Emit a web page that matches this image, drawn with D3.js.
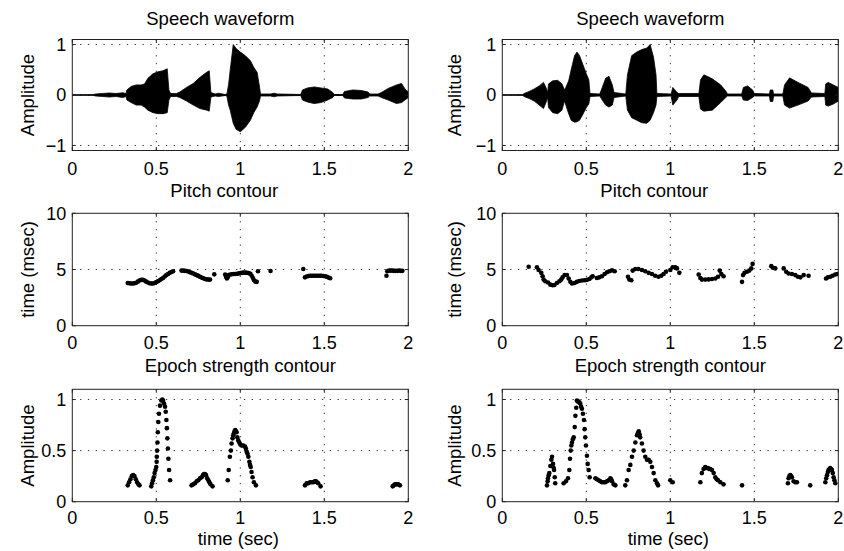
<!DOCTYPE html>
<html>
<head>
<meta charset="utf-8">
<script src="https://cdn.jsdelivr.net/npm/d3@7"></script>
<style>
  html, body { margin: 0; padding: 0; background: #fff; }
  text { font-family: "Liberation Sans", Arial, Helvetica, sans-serif; fill: #000; }
</style>
</head>
<body>
<svg id="chart" width="844" height="551"></svg>
<script>
// ---------------- DATA ----------------
const xTicks = [0, 0.5, 1, 1.5, 2];
const waveTicks = [-1, 0, 1];
const pitchTicks = [0, 5, 10];
const epochTicks = [0, 0.5, 1];

const titles = ["Speech waveform", "Pitch contour", "Epoch strength contour"];
const yLabels = ["Amplitude", "time (msec)", "Amplitude"];
const xLabel = "time (sec)";

// speech waveform envelopes: [time, upper, lower]
const waveLeft = [
  [0,0,0],[0.12,0.005,-0.005],[0.14,0.02,-0.02],[0.18,0.03,-0.03],[0.22,0.04,-0.04],[0.26,0.03,-0.03],
  [0.30,0.045,-0.05],[0.32,0.03,-0.03],[0.325,0.1,-0.1],[0.35,0.17,-0.15],[0.38,0.2,-0.2],[0.41,0.2,-0.2],
  [0.43,0.22,-0.24],[0.45,0.33,-0.3],[0.48,0.42,-0.35],[0.51,0.46,-0.37],[0.54,0.48,-0.37],[0.565,0.52,-0.35],
  [0.575,0.1,-0.1],[0.585,0.03,-0.03],[0.62,0.03,-0.03],[0.64,0.06,-0.05],[0.68,0.15,-0.12],[0.72,0.23,-0.2],
  [0.76,0.35,-0.27],[0.80,0.45,-0.3],[0.815,0.48,-0.32],[0.825,0.05,-0.04],[0.85,0.02,-0.02],[0.87,0.035,-0.03],
  [0.91,0.01,-0.01],[0.92,0.02,-0.02],[0.93,0.2,-0.2],[0.94,0.5,-0.3],[0.958,1.0,-0.56],[0.975,0.92,-0.68],
  [1.0,0.85,-0.73],[1.03,0.78,-0.64],[1.06,0.68,-0.5],[1.08,0.55,-0.35],[1.10,0.45,-0.24],[1.115,0.15,-0.11],
  [1.12,0.02,-0.02],[1.18,0.02,-0.02],[1.2,0.035,-0.035],[1.22,0.02,-0.02],[1.36,0.01,-0.01],[1.37,0.1,-0.1],
  [1.40,0.14,-0.14],[1.44,0.16,-0.17],[1.48,0.14,-0.15],[1.52,0.12,-0.1],[1.55,0.05,-0.05],[1.56,0.01,-0.01],
  [1.61,0.01,-0.01],[1.62,0.07,-0.06],[1.67,0.1,-0.08],[1.72,0.09,-0.08],[1.76,0.06,-0.05],[1.77,0.02,-0.02],
  [1.82,0.02,-0.02],[1.84,0.05,-0.05],[1.88,0.13,-0.1],[1.93,0.2,-0.17],[1.96,0.23,-0.15],[1.98,0.12,-0.1],
  [2.0,0.06,-0.05]
];
const waveRight = [
  [0,0,0],[0.12,0.005,-0.005],[0.13,0.03,-0.03],[0.16,0.07,-0.07],[0.19,0.12,-0.12],[0.22,0.18,-0.2],
  [0.245,0.25,-0.27],[0.26,0.15,-0.15],[0.27,0.05,-0.05],[0.275,0.22,-0.25],[0.30,0.28,-0.35],[0.33,0.29,-0.37],
  [0.355,0.22,-0.3],[0.37,0.1,-0.12],[0.378,0.15,-0.2],[0.395,0.28,-0.37],[0.41,0.5,-0.5],[0.43,0.78,-0.54],
  [0.445,0.85,-0.53],[0.46,0.78,-0.5],[0.48,0.6,-0.38],[0.50,0.42,-0.25],[0.515,0.3,-0.18],[0.522,0.03,-0.03],
  [0.58,0.02,-0.02],[0.595,0.15,-0.1],[0.615,0.33,-0.2],[0.635,0.37,-0.24],[0.655,0.2,-0.2],[0.665,0.05,-0.05],
  [0.735,0.02,-0.02],[0.745,0.4,-0.3],[0.77,0.78,-0.45],[0.80,0.85,-0.5],[0.83,0.9,-0.55],[0.86,0.93,-0.56],
  [0.88,1.0,-0.5],[0.9,0.75,-0.35],[0.915,0.4,-0.2],[0.92,0.03,-0.03],[1.005,0.02,-0.02],[1.015,0.15,-0.2],
  [1.04,0.05,-0.1],[1.05,0.03,-0.03],[1.17,0.03,-0.03],[1.18,0.3,-0.28],[1.2,0.4,-0.32],[1.25,0.32,-0.3],
  [1.3,0.2,-0.15],[1.33,0.08,-0.05],[1.34,0.02,-0.02],[1.425,0.02,-0.02],[1.435,0.15,-0.1],[1.46,0.18,-0.11],
  [1.49,0.1,-0.05],[1.5,0.03,-0.02],[1.59,0.02,-0.02],[1.595,0.1,-0.13],[1.61,0.1,-0.13],[1.615,0.02,-0.02],
  [1.67,0.02,-0.02],[1.68,0.2,-0.2],[1.71,0.34,-0.26],[1.76,0.25,-0.2],[1.82,0.15,-0.12],[1.84,0.04,-0.04],
  [1.92,0.03,-0.03],[1.925,0.22,-0.2],[1.94,0.25,-0.22],[1.97,0.2,-0.18],[2.0,0.15,-0.12]
];

// pitch contour points: [time (sec), pitch period (msec)]
const pitchLeft = [
  [0.330,3.80],[0.340,3.78],[0.350,3.76],[0.360,3.76],[0.370,3.78],[0.380,3.82],[0.390,3.92],[0.400,4.02],
  [0.410,4.08],[0.420,4.08],[0.430,4.02],[0.440,3.92],[0.450,3.84],[0.460,3.78],[0.470,3.76],[0.480,3.76],
  [0.490,3.80],[0.500,3.88],[0.510,3.96],[0.520,4.05],[0.530,4.15],[0.540,4.25],[0.550,4.38],[0.560,4.50],
  [0.570,4.60],[0.580,4.70],[0.590,4.78],[0.600,4.85],
  [0.650,4.90],[0.660,4.90],[0.670,4.88],[0.680,4.86],[0.690,4.82],[0.700,4.76],[0.710,4.70],[0.720,4.64],
  [0.730,4.57],[0.740,4.50],[0.750,4.43],[0.760,4.36],[0.770,4.28],[0.780,4.22],[0.790,4.16],[0.800,4.12],
  [0.810,4.10],[0.820,4.10],[0.845,4.57],
  [0.910,4.55],[0.915,4.35],[0.920,4.20],[0.925,4.30],[0.930,4.50],[0.940,4.55],[0.950,4.58],[0.960,4.60],
  [0.970,4.60],[0.980,4.62],[0.990,4.65],[1.000,4.68],[1.010,4.70],[1.020,4.72],[1.030,4.72],[1.040,4.70],
  [1.050,4.68],[1.060,4.62],[1.068,4.45],[1.075,4.25],[1.082,4.05],[1.090,3.92],[1.098,3.90],[1.105,4.85],
  [1.180,4.87],
  [1.375,5.05],[1.385,4.30],[1.395,4.38],[1.405,4.42],[1.415,4.45],[1.425,4.45],[1.435,4.45],[1.445,4.45],
  [1.455,4.45],[1.465,4.45],[1.475,4.45],[1.485,4.45],[1.495,4.42],[1.505,4.40],[1.515,4.35],[1.525,4.28],
  [1.535,4.22],
  [1.870,4.45],[1.875,4.85],[1.885,4.90],[1.895,4.90],[1.905,4.90],[1.915,4.88],[1.925,4.88],[1.935,4.88],
  [1.945,4.90],[1.955,4.88],[1.965,4.88]
];
const pitchRight = [
  [0.157,5.25],[0.206,5.20],[0.216,4.95],[0.232,4.70],[0.240,4.40],[0.246,4.10],[0.256,3.95],[0.272,3.85],
  [0.286,3.65],[0.300,3.60],[0.310,3.62],[0.325,3.80],[0.340,3.95],[0.351,4.10],[0.359,4.30],[0.371,4.50],
  [0.385,4.50],[0.395,4.20],[0.405,3.90],[0.415,3.75],[0.430,3.80],[0.444,3.90],[0.458,3.98],[0.474,4.02],
  [0.490,4.05],[0.504,4.08],[0.518,4.15],[0.530,4.30],[0.538,4.40],
  [0.563,4.25],[0.577,4.30],[0.593,4.40],[0.609,4.60],[0.623,4.75],[0.637,4.85],[0.653,4.92],[0.669,4.85],
  [0.748,4.35],[0.756,4.10],[0.768,4.05],[0.776,4.90],[0.792,5.05],[0.810,5.05],[0.831,4.95],[0.851,4.85],
  [0.871,4.70],[0.891,4.60],[0.910,4.45],[0.930,4.35],[0.946,4.45],[0.960,4.60],[0.974,4.80],
  [1.000,4.95],[1.014,5.20],[1.030,5.20],[1.040,5.10],[1.054,4.70],
  [1.169,4.55],[1.179,4.25],[1.188,4.10],[1.208,4.10],[1.228,4.12],[1.248,4.15],[1.268,4.20],[1.284,4.35],
  [1.294,4.90],[1.304,4.60],[1.317,4.40],
  [1.427,3.90],[1.433,4.50],[1.442,4.70],[1.456,4.80],[1.470,4.90],[1.482,5.10],[1.490,5.50],
  [1.601,5.30],[1.611,5.15],[1.625,5.10],[1.675,5.10],[1.690,4.80],[1.704,4.65],[1.724,4.60],[1.744,4.50],
  [1.760,4.35],[1.774,4.30],[1.794,4.50],[1.823,4.45],
  [1.927,4.20],[1.938,4.30],[1.952,4.35],[1.966,4.45],[1.982,4.55],[1.996,4.60]
];

// epoch strength points: [time (sec), amplitude]
const epochLeft = [
  [0.330,0.16],[0.338,0.19],[0.346,0.22],[0.354,0.25],[0.362,0.26],[0.370,0.25],[0.378,0.22],[0.386,0.19],
  [0.394,0.17],[0.400,0.16],
  [0.470,0.15],[0.475,0.18],[0.480,0.21],[0.485,0.24],[0.490,0.28],[0.495,0.31],[0.500,0.34],[0.502,0.39],
  [0.503,0.44],[0.505,0.50],[0.507,0.58],[0.509,0.68],[0.512,0.78],[0.516,0.86],[0.522,0.94],[0.530,0.99],
  [0.536,1.00],[0.540,0.99],[0.546,0.96],[0.552,0.93],[0.556,0.88],[0.560,0.80],[0.563,0.72],[0.566,0.62],
  [0.569,0.52],[0.572,0.42],[0.576,0.31],[0.582,0.21],
  [0.710,0.16],[0.720,0.17],[0.730,0.18],[0.740,0.20],[0.750,0.21],[0.760,0.23],[0.770,0.24],[0.778,0.26],
  [0.784,0.27],[0.790,0.27],[0.796,0.26],[0.803,0.23],[0.810,0.21],[0.816,0.19],[0.823,0.17],[0.835,0.15],
  [0.925,0.21],[0.931,0.31],[0.938,0.44],[0.944,0.50],[0.948,0.57],[0.954,0.62],[0.958,0.65],[0.962,0.67],
  [0.966,0.69],[0.970,0.70],[0.974,0.69],[0.978,0.68],[0.982,0.63],[0.988,0.60],[0.994,0.58],[1.000,0.56],
  [1.008,0.55],[1.018,0.55],[1.028,0.54],[1.033,0.52],[1.038,0.49],[1.043,0.47],[1.048,0.44],[1.054,0.39],
  [1.058,0.36],[1.062,0.34],[1.067,0.29],[1.073,0.24],[1.081,0.19],[1.093,0.16],
  [1.385,0.16],[1.395,0.18],[1.405,0.18],[1.415,0.19],[1.425,0.19],[1.435,0.19],[1.443,0.20],[1.450,0.20],
  [1.457,0.19],[1.464,0.18],[1.478,0.15],
  [1.907,0.15],[1.914,0.16],[1.921,0.17],[1.930,0.17],[1.940,0.17],[1.950,0.16]
];
const epochRight = [
  [0.266,0.16],[0.270,0.20],[0.272,0.23],[0.276,0.26],[0.280,0.28],[0.286,0.35],[0.292,0.41],[0.296,0.44],
  [0.302,0.37],[0.306,0.33],[0.308,0.31],[0.312,0.24],[0.315,0.18],
  [0.365,0.18],[0.379,0.20],[0.391,0.23],[0.399,0.31],[0.403,0.42],[0.407,0.50],[0.411,0.55],[0.415,0.58],
  [0.420,0.61],[0.425,0.63],[0.431,0.73],[0.435,0.84],[0.440,0.92],[0.444,0.99],[0.449,0.98],[0.454,0.98],
  [0.459,0.97],[0.464,0.96],[0.469,0.93],[0.474,0.91],[0.480,0.86],[0.486,0.80],[0.490,0.71],[0.494,0.63],
  [0.498,0.55],[0.504,0.45],[0.508,0.37],[0.514,0.31],[0.520,0.24],
  [0.554,0.23],[0.563,0.22],[0.573,0.21],[0.583,0.20],[0.593,0.19],[0.603,0.19],[0.613,0.19],[0.623,0.20],
  [0.633,0.21],[0.643,0.23],[0.648,0.22],[0.653,0.20],[0.663,0.17],[0.673,0.16],
  [0.732,0.16],[0.742,0.21],[0.752,0.31],[0.762,0.36],[0.772,0.44],[0.782,0.50],[0.792,0.58],[0.802,0.65],
  [0.807,0.67],[0.812,0.69],[0.817,0.66],[0.821,0.63],[0.831,0.57],[0.841,0.50],[0.851,0.44],[0.861,0.41],
  [0.871,0.41],[0.881,0.39],[0.891,0.34],[0.901,0.28],[0.911,0.21],[0.921,0.18],[0.927,0.16],
  [1.000,0.21],[1.014,0.19],
  [1.179,0.19],[1.188,0.28],[1.198,0.32],[1.208,0.34],[1.216,0.33],[1.224,0.33],[1.231,0.32],[1.238,0.32],
  [1.248,0.31],[1.258,0.28],[1.268,0.24],[1.276,0.22],[1.284,0.21],[1.298,0.19],[1.317,0.17],
  [1.427,0.16],
  [1.700,0.18],[1.704,0.23],[1.709,0.25],[1.714,0.26],[1.719,0.25],[1.724,0.24],[1.734,0.20],[1.744,0.19],
  [1.754,0.19],
  [1.833,0.16],
  [1.923,0.19],[1.928,0.23],[1.933,0.26],[1.938,0.29],[1.942,0.31],[1.947,0.32],[1.952,0.33],[1.957,0.32],
  [1.962,0.31],[1.967,0.28],[1.972,0.24],[1.977,0.21],[1.982,0.18]
];

// ---------------- LAYOUT ----------------
const svg = d3.select("#chart");
svg.append("rect").attr("width", 844).attr("height", 551).attr("fill", "#fff");

const cols = [{x0: 72.3, labelX: 34}, {x0: 502.3, labelX: 461}];
const plotW = 336;
const rows = [
  {y0: 39.5, y1: 150.5, domain: [-1.1, 1.1], ticks: waveTicks, titleY: 25, tickY: 175, titleDx: -20},
  {y0: 213.3, y1: 325.7, domain: [0, 10], ticks: pitchTicks, titleY: 197, tickY: 348.5, titleDx: -16},
  {y0: 389.3, y1: 501.7, domain: [0, 1.1], ticks: epochTicks, titleY: 372, tickY: 523.5, titleDx: 0}
];
const data = [
  [waveLeft, waveRight],
  [pitchLeft, pitchRight],
  [epochLeft, epochRight]
];

const fmt = d3.format("");
const tickFont = 18, labelFont = 18.5;

rows.forEach((row, ri) => {
  cols.forEach((col, ci) => {
    const x = d3.scaleLinear().domain([0, 2]).range([col.x0, col.x0 + plotW]);
    const y = d3.scaleLinear().domain(row.domain).range([row.y1, row.y0]);
    const g = svg.append("g");
    const clipId = `clip-${ri}-${ci}`;
    g.append("clipPath").attr("id", clipId).append("rect")
      .attr("x", col.x0).attr("y", row.y0).attr("width", plotW).attr("height", row.y1 - row.y0);

    // grid
    const grid = g.append("g").attr("stroke", "#333").attr("stroke-width", 1)
      .attr("stroke-dasharray", "1.3,6.5");
    xTicks.filter(t => t > 0 && t < 2).forEach(t => {
      grid.append("line").attr("x1", x(t)).attr("x2", x(t)).attr("y1", row.y0).attr("y2", row.y1);
    });
    row.ticks.filter(t => t > row.domain[0] && t < row.domain[1]).forEach(t => {
      grid.append("line").attr("x1", col.x0).attr("x2", col.x0 + plotW).attr("y1", y(t)).attr("y2", y(t));
    });

    const plot = g.append("g").attr("clip-path", `url(#${clipId})`);
    const series = data[ri][ci];
    if (ri === 0) {
      plot.append("line").attr("x1", x(0)).attr("x2", x(2)).attr("y1", y(0)).attr("y2", y(0))
        .attr("stroke", "#000").attr("stroke-width", 1.2);
      const area = d3.area().x(d => x(d[0])).y0(d => y(d[2])).y1(d => y(d[1]));
      plot.append("path").datum(series).attr("d", area).attr("fill", "#000")
        .attr("stroke", "#000").attr("stroke-width", 0.8).attr("stroke-linejoin", "round");
    } else {
      plot.selectAll("circle").data(series).join("circle")
        .attr("cx", d => x(d[0])).attr("cy", d => y(d[1])).attr("r", 2.3).attr("fill", "#000");
    }

    // box + ticks
    const axG = g.append("g").attr("stroke", "#222").attr("stroke-width", 1).attr("fill", "none");
    axG.append("rect").attr("x", col.x0).attr("y", row.y0).attr("width", plotW).attr("height", row.y1 - row.y0);
    const tl = 3.5;
    xTicks.forEach(t => {
      axG.append("line").attr("x1", x(t)).attr("x2", x(t)).attr("y1", row.y1).attr("y2", row.y1 - tl);
      axG.append("line").attr("x1", x(t)).attr("x2", x(t)).attr("y1", row.y0).attr("y2", row.y0 + tl);
    });
    row.ticks.forEach(t => {
      axG.append("line").attr("x1", col.x0).attr("x2", col.x0 + tl).attr("y1", y(t)).attr("y2", y(t));
      axG.append("line").attr("x1", col.x0 + plotW).attr("x2", col.x0 + plotW - tl).attr("y1", y(t)).attr("y2", y(t));
    });

    // tick labels
    xTicks.forEach(t => {
      g.append("text").attr("x", x(t)).attr("y", row.tickY).attr("text-anchor", "middle")
        .attr("font-size", tickFont).text(fmt(t));
    });
    row.ticks.forEach(t => {
      g.append("text").attr("x", col.x0 - 6).attr("y", y(t)).attr("dy", "0.36em")
        .attr("text-anchor", "end").attr("font-size", tickFont).text(fmt(t));
    });

    // title
    g.append("text").attr("x", col.x0 + plotW / 2 + row.titleDx).attr("y", row.titleY).attr("text-anchor", "middle")
      .attr("font-size", labelFont).text(titles[ri]);
    // y label
    const cy = (row.y0 + row.y1) / 2;
    g.append("text").attr("transform", `translate(${col.labelX},${cy}) rotate(-90)`)
      .attr("text-anchor", "middle").attr("font-size", labelFont).text(yLabels[ri]);
    // x label
    if (ri === 2) {
      g.append("text").attr("x", col.x0 + plotW / 2 - 2).attr("y", 545).attr("text-anchor", "middle")
        .attr("font-size", labelFont).text(xLabel);
    }
  });
});
</script>
</body>
</html>
